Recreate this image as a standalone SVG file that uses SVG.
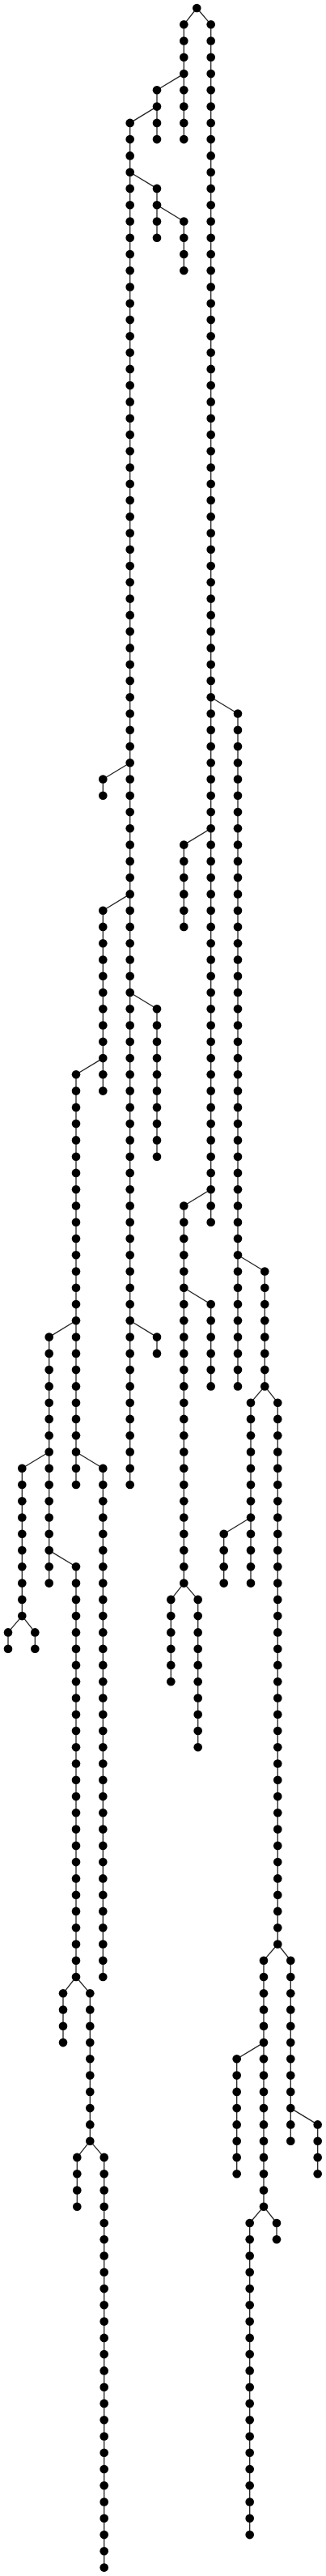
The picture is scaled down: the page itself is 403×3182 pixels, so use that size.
<svg xmlns="http://www.w3.org/2000/svg" width="403" height="3182" viewBox="0 0 403 3182">
<style>
circle{r:5.3px;fill:#000}
#edges line{stroke:#222;stroke-width:1.3}
</style>
<rect width="403" height="3182" fill="#fff"/>
<g id="edges">
<line x1="227.3" y1="30.3" x2="227.3" y2="172.1"/>
<line x1="260.7" y1="30.3" x2="260.7" y2="1509.7"/>
<line x1="194" y1="111.3" x2="194" y2="172.1"/>
<line x1="160.7" y1="151.9" x2="160.7" y2="1834"/>
<line x1="194" y1="232.9" x2="194" y2="293.7"/>
<line x1="227.3" y1="273.5" x2="227.3" y2="334.3"/>
<line x1="294" y1="881.5" x2="294" y2="1712.4"/>
<line x1="127.3" y1="962.5" x2="127.3" y2="982.8"/>
<line x1="227.3" y1="1043.6" x2="227.3" y2="1144.9"/>
<line x1="127.3" y1="1124.7" x2="127.3" y2="1347.6"/>
<line x1="194" y1="1246.3" x2="194" y2="1428.7"/>
<line x1="94" y1="1327.3" x2="94" y2="1834"/>
<line x1="227.3" y1="1489.5" x2="227.3" y2="1955.6"/>
<line x1="327.3" y1="1570.5" x2="327.3" y2="1712.4"/>
<line x1="60.7" y1="1651.6" x2="60.7" y2="1955.6"/>
<line x1="127.3" y1="1813.7" x2="127.3" y2="2442"/>
<line x1="194" y1="1651.6" x2="194" y2="1671.9"/>
<line x1="260.7" y1="1611.1" x2="260.7" y2="1712.4"/>
<line x1="27.3" y1="1813.7" x2="27.3" y2="1996.1"/>
<line x1="10" y1="2016.4" x2="10" y2="2036.7"/>
<line x1="43.3" y1="2016.4" x2="43.3" y2="2036.7"/>
<line x1="310" y1="1732.7" x2="310" y2="1955.6"/>
<line x1="343.3" y1="1732.7" x2="343.3" y2="2401.5"/>
<line x1="276.7" y1="1894.8" x2="276.7" y2="1955.6"/>
<line x1="94" y1="1935.3" x2="94" y2="2442"/>
<line x1="211.3" y1="1975.9" x2="211.3" y2="2077.2"/>
<line x1="244.7" y1="1975.9" x2="244.7" y2="2158.3"/>
<line x1="78" y1="2462.3" x2="78" y2="2523.1"/>
<line x1="111.3" y1="2462.3" x2="111.3" y2="2644.7"/>
<line x1="95.3" y1="2664.9" x2="95.3" y2="2725.7"/>
<line x1="128.7" y1="2664.9" x2="128.7" y2="3171.6"/>
<line x1="326" y1="2421.7" x2="326" y2="2725.7"/>
<line x1="359.3" y1="2421.7" x2="359.3" y2="2644.7"/>
<line x1="292.7" y1="2543.3" x2="292.7" y2="2685.2"/>
<line x1="392.7" y1="2624.4" x2="392.7" y2="2685.2"/>
<line x1="308.7" y1="2746" x2="308.7" y2="3131.1"/>
<line x1="342" y1="2746" x2="342" y2="2766.3"/>
<line x1="243.3" y1="10" x2="227.3" y2="30.3"/>
<line x1="243.3" y1="10" x2="260.7" y2="30.3"/>
<line x1="227.3" y1="91.1" x2="194" y2="111.3"/>
<line x1="194" y1="131.6" x2="160.7" y2="151.9"/>
<line x1="160.7" y1="212.7" x2="194" y2="232.9"/>
<line x1="194" y1="253.2" x2="227.3" y2="273.5"/>
<line x1="260.7" y1="861.2" x2="294" y2="881.5"/>
<line x1="160.7" y1="942.3" x2="127.3" y2="962.5"/>
<line x1="260.7" y1="1023.3" x2="227.3" y2="1043.6"/>
<line x1="160.7" y1="1104.4" x2="127.3" y2="1124.7"/>
<line x1="160.7" y1="1226" x2="194" y2="1246.3"/>
<line x1="127.3" y1="1307.1" x2="94" y2="1327.3"/>
<line x1="260.7" y1="1469.2" x2="227.3" y2="1489.5"/>
<line x1="294" y1="1550.3" x2="327.3" y2="1570.5"/>
<line x1="227.3" y1="1590.8" x2="260.7" y2="1611.1"/>
<line x1="94" y1="1631.3" x2="60.7" y2="1651.6"/>
<line x1="160.7" y1="1631.3" x2="194" y2="1651.6"/>
<line x1="327.3" y1="1712.4" x2="310" y2="1732.7"/>
<line x1="327.3" y1="1712.4" x2="343.3" y2="1732.7"/>
<line x1="94" y1="1793.5" x2="127.3" y2="1813.7"/>
<line x1="60.7" y1="1793.5" x2="27.3" y2="1813.7"/>
<line x1="310" y1="1874.5" x2="276.7" y2="1894.8"/>
<line x1="60.7" y1="1915.1" x2="94" y2="1935.3"/>
<line x1="227.3" y1="1955.6" x2="211.3" y2="1975.9"/>
<line x1="227.3" y1="1955.6" x2="244.7" y2="1975.9"/>
<line x1="27.3" y1="1996.1" x2="10" y2="2016.4"/>
<line x1="27.3" y1="1996.1" x2="43.3" y2="2016.4"/>
<line x1="343.3" y1="2401.5" x2="326" y2="2421.7"/>
<line x1="343.3" y1="2401.5" x2="359.3" y2="2421.7"/>
<line x1="94" y1="2442" x2="78" y2="2462.3"/>
<line x1="94" y1="2442" x2="111.3" y2="2462.3"/>
<line x1="326" y1="2523.1" x2="292.7" y2="2543.3"/>
<line x1="359.3" y1="2604.1" x2="392.7" y2="2624.4"/>
<line x1="111.3" y1="2644.7" x2="95.3" y2="2664.9"/>
<line x1="111.3" y1="2644.7" x2="128.7" y2="2664.9"/>
<line x1="326" y1="2725.7" x2="308.7" y2="2746"/>
<line x1="326" y1="2725.7" x2="342" y2="2746"/>
</g>
<g id="nodes">
<g id="a-0"><circle cx="243.3" cy="10"/></g>
<g id="b-1"><circle cx="227.3" cy="30.3"/></g>
<g id="b-2"><circle cx="227.3" cy="50.5"/></g>
<g id="b-3"><circle cx="227.3" cy="70.8"/></g>
<g id="b-4"><circle cx="227.3" cy="91.1"/></g>
<g id="b-5"><circle cx="227.3" cy="111.3"/></g>
<g id="b-6"><circle cx="227.3" cy="131.6"/></g>
<g id="b-7"><circle cx="227.3" cy="151.9"/></g>
<g id="b-8"><circle cx="227.3" cy="172.1"/></g>
<g id="c-1"><circle cx="260.7" cy="30.3"/></g>
<g id="c-2"><circle cx="260.7" cy="50.5"/></g>
<g id="c-3"><circle cx="260.7" cy="70.8"/></g>
<g id="c-4"><circle cx="260.7" cy="91.1"/></g>
<g id="c-5"><circle cx="260.7" cy="111.3"/></g>
<g id="c-6"><circle cx="260.7" cy="131.6"/></g>
<g id="c-7"><circle cx="260.7" cy="151.9"/></g>
<g id="c-8"><circle cx="260.7" cy="172.1"/></g>
<g id="c-9"><circle cx="260.7" cy="192.4"/></g>
<g id="c-10"><circle cx="260.7" cy="212.7"/></g>
<g id="c-11"><circle cx="260.7" cy="232.9"/></g>
<g id="c-12"><circle cx="260.7" cy="253.2"/></g>
<g id="c-13"><circle cx="260.7" cy="273.5"/></g>
<g id="c-14"><circle cx="260.7" cy="293.7"/></g>
<g id="c-15"><circle cx="260.7" cy="314"/></g>
<g id="c-16"><circle cx="260.7" cy="334.3"/></g>
<g id="c-17"><circle cx="260.7" cy="354.5"/></g>
<g id="c-18"><circle cx="260.7" cy="374.8"/></g>
<g id="c-19"><circle cx="260.7" cy="395.1"/></g>
<g id="c-20"><circle cx="260.7" cy="415.3"/></g>
<g id="c-21"><circle cx="260.7" cy="435.6"/></g>
<g id="c-22"><circle cx="260.7" cy="455.9"/></g>
<g id="c-23"><circle cx="260.7" cy="476.1"/></g>
<g id="c-24"><circle cx="260.7" cy="496.4"/></g>
<g id="c-25"><circle cx="260.7" cy="516.7"/></g>
<g id="c-26"><circle cx="260.7" cy="536.9"/></g>
<g id="c-27"><circle cx="260.7" cy="557.2"/></g>
<g id="c-28"><circle cx="260.7" cy="577.5"/></g>
<g id="c-29"><circle cx="260.7" cy="597.7"/></g>
<g id="c-30"><circle cx="260.7" cy="618"/></g>
<g id="c-31"><circle cx="260.7" cy="638.3"/></g>
<g id="c-32"><circle cx="260.7" cy="658.5"/></g>
<g id="c-33"><circle cx="260.7" cy="678.8"/></g>
<g id="c-34"><circle cx="260.7" cy="699.1"/></g>
<g id="c-35"><circle cx="260.7" cy="719.3"/></g>
<g id="c-36"><circle cx="260.7" cy="739.6"/></g>
<g id="c-37"><circle cx="260.7" cy="759.9"/></g>
<g id="c-38"><circle cx="260.7" cy="780.1"/></g>
<g id="c-39"><circle cx="260.7" cy="800.4"/></g>
<g id="c-40"><circle cx="260.7" cy="820.7"/></g>
<g id="c-41"><circle cx="260.7" cy="840.9"/></g>
<g id="c-42"><circle cx="260.7" cy="861.2"/></g>
<g id="c-43"><circle cx="260.7" cy="881.5"/></g>
<g id="c-44"><circle cx="260.7" cy="901.7"/></g>
<g id="c-45"><circle cx="260.7" cy="922"/></g>
<g id="c-46"><circle cx="260.7" cy="942.3"/></g>
<g id="c-47"><circle cx="260.7" cy="962.5"/></g>
<g id="c-48"><circle cx="260.7" cy="982.8"/></g>
<g id="c-49"><circle cx="260.7" cy="1003.1"/></g>
<g id="c-50"><circle cx="260.7" cy="1023.3"/></g>
<g id="c-51"><circle cx="260.7" cy="1043.6"/></g>
<g id="c-52"><circle cx="260.7" cy="1063.9"/></g>
<g id="c-53"><circle cx="260.7" cy="1084.1"/></g>
<g id="c-54"><circle cx="260.7" cy="1104.4"/></g>
<g id="c-55"><circle cx="260.7" cy="1124.7"/></g>
<g id="c-56"><circle cx="260.7" cy="1144.9"/></g>
<g id="c-57"><circle cx="260.7" cy="1165.2"/></g>
<g id="c-58"><circle cx="260.7" cy="1185.5"/></g>
<g id="c-59"><circle cx="260.7" cy="1205.7"/></g>
<g id="c-60"><circle cx="260.7" cy="1226"/></g>
<g id="c-61"><circle cx="260.7" cy="1246.3"/></g>
<g id="c-62"><circle cx="260.7" cy="1266.5"/></g>
<g id="c-63"><circle cx="260.7" cy="1286.8"/></g>
<g id="c-64"><circle cx="260.7" cy="1307.1"/></g>
<g id="c-65"><circle cx="260.7" cy="1327.3"/></g>
<g id="c-66"><circle cx="260.7" cy="1347.6"/></g>
<g id="c-67"><circle cx="260.7" cy="1367.9"/></g>
<g id="c-68"><circle cx="260.7" cy="1388.1"/></g>
<g id="c-69"><circle cx="260.7" cy="1408.4"/></g>
<g id="c-70"><circle cx="260.7" cy="1428.7"/></g>
<g id="c-71"><circle cx="260.7" cy="1448.9"/></g>
<g id="c-72"><circle cx="260.7" cy="1469.2"/></g>
<g id="c-73"><circle cx="260.7" cy="1489.5"/></g>
<g id="c-74"><circle cx="260.7" cy="1509.7"/></g>
<g id="d-5"><circle cx="194" cy="111.3"/></g>
<g id="d-6"><circle cx="194" cy="131.6"/></g>
<g id="d-7"><circle cx="194" cy="151.9"/></g>
<g id="d-8"><circle cx="194" cy="172.1"/></g>
<g id="e-7"><circle cx="160.7" cy="151.9"/></g>
<g id="e-8"><circle cx="160.7" cy="172.1"/></g>
<g id="e-9"><circle cx="160.7" cy="192.4"/></g>
<g id="e-10"><circle cx="160.7" cy="212.7"/></g>
<g id="e-11"><circle cx="160.7" cy="232.9"/></g>
<g id="e-12"><circle cx="160.7" cy="253.2"/></g>
<g id="e-13"><circle cx="160.7" cy="273.5"/></g>
<g id="e-14"><circle cx="160.7" cy="293.7"/></g>
<g id="e-15"><circle cx="160.7" cy="314"/></g>
<g id="e-16"><circle cx="160.7" cy="334.3"/></g>
<g id="e-17"><circle cx="160.7" cy="354.5"/></g>
<g id="e-18"><circle cx="160.7" cy="374.8"/></g>
<g id="e-19"><circle cx="160.7" cy="395.1"/></g>
<g id="e-20"><circle cx="160.7" cy="415.3"/></g>
<g id="e-21"><circle cx="160.7" cy="435.6"/></g>
<g id="e-22"><circle cx="160.7" cy="455.9"/></g>
<g id="e-23"><circle cx="160.7" cy="476.1"/></g>
<g id="e-24"><circle cx="160.7" cy="496.4"/></g>
<g id="e-25"><circle cx="160.7" cy="516.7"/></g>
<g id="e-26"><circle cx="160.7" cy="536.9"/></g>
<g id="e-27"><circle cx="160.7" cy="557.2"/></g>
<g id="e-28"><circle cx="160.7" cy="577.5"/></g>
<g id="e-29"><circle cx="160.7" cy="597.7"/></g>
<g id="e-30"><circle cx="160.7" cy="618"/></g>
<g id="e-31"><circle cx="160.7" cy="638.3"/></g>
<g id="e-32"><circle cx="160.7" cy="658.5"/></g>
<g id="e-33"><circle cx="160.7" cy="678.8"/></g>
<g id="e-34"><circle cx="160.7" cy="699.1"/></g>
<g id="e-35"><circle cx="160.7" cy="719.3"/></g>
<g id="e-36"><circle cx="160.7" cy="739.6"/></g>
<g id="e-37"><circle cx="160.7" cy="759.9"/></g>
<g id="e-38"><circle cx="160.7" cy="780.1"/></g>
<g id="e-39"><circle cx="160.7" cy="800.4"/></g>
<g id="e-40"><circle cx="160.7" cy="820.7"/></g>
<g id="e-41"><circle cx="160.7" cy="840.9"/></g>
<g id="e-42"><circle cx="160.7" cy="861.2"/></g>
<g id="e-43"><circle cx="160.7" cy="881.5"/></g>
<g id="e-44"><circle cx="160.7" cy="901.7"/></g>
<g id="e-45"><circle cx="160.7" cy="922"/></g>
<g id="e-46"><circle cx="160.7" cy="942.3"/></g>
<g id="e-47"><circle cx="160.7" cy="962.5"/></g>
<g id="e-48"><circle cx="160.7" cy="982.8"/></g>
<g id="e-49"><circle cx="160.7" cy="1003.1"/></g>
<g id="e-50"><circle cx="160.7" cy="1023.3"/></g>
<g id="e-51"><circle cx="160.7" cy="1043.6"/></g>
<g id="e-52"><circle cx="160.7" cy="1063.9"/></g>
<g id="e-53"><circle cx="160.7" cy="1084.1"/></g>
<g id="e-54"><circle cx="160.7" cy="1104.4"/></g>
<g id="e-55"><circle cx="160.7" cy="1124.7"/></g>
<g id="e-56"><circle cx="160.7" cy="1144.9"/></g>
<g id="e-57"><circle cx="160.7" cy="1165.2"/></g>
<g id="e-58"><circle cx="160.7" cy="1185.5"/></g>
<g id="e-59"><circle cx="160.7" cy="1205.7"/></g>
<g id="e-60"><circle cx="160.7" cy="1226"/></g>
<g id="e-61"><circle cx="160.7" cy="1246.3"/></g>
<g id="e-62"><circle cx="160.7" cy="1266.5"/></g>
<g id="e-63"><circle cx="160.7" cy="1286.8"/></g>
<g id="e-64"><circle cx="160.7" cy="1307.1"/></g>
<g id="e-65"><circle cx="160.7" cy="1327.3"/></g>
<g id="e-66"><circle cx="160.7" cy="1347.6"/></g>
<g id="e-67"><circle cx="160.7" cy="1367.9"/></g>
<g id="e-68"><circle cx="160.7" cy="1388.1"/></g>
<g id="e-69"><circle cx="160.7" cy="1408.4"/></g>
<g id="e-70"><circle cx="160.7" cy="1428.7"/></g>
<g id="e-71"><circle cx="160.7" cy="1448.9"/></g>
<g id="e-72"><circle cx="160.7" cy="1469.2"/></g>
<g id="e-73"><circle cx="160.7" cy="1489.5"/></g>
<g id="e-74"><circle cx="160.7" cy="1509.7"/></g>
<g id="e-75"><circle cx="160.7" cy="1530"/></g>
<g id="e-76"><circle cx="160.7" cy="1550.3"/></g>
<g id="e-77"><circle cx="160.7" cy="1570.5"/></g>
<g id="e-78"><circle cx="160.7" cy="1590.8"/></g>
<g id="e-79"><circle cx="160.7" cy="1611.1"/></g>
<g id="e-80"><circle cx="160.7" cy="1631.3"/></g>
<g id="e-81"><circle cx="160.7" cy="1651.6"/></g>
<g id="e-82"><circle cx="160.7" cy="1671.9"/></g>
<g id="e-83"><circle cx="160.7" cy="1692.1"/></g>
<g id="e-84"><circle cx="160.7" cy="1712.4"/></g>
<g id="e-85"><circle cx="160.7" cy="1732.7"/></g>
<g id="e-86"><circle cx="160.7" cy="1752.9"/></g>
<g id="e-87"><circle cx="160.7" cy="1773.2"/></g>
<g id="e-88"><circle cx="160.7" cy="1793.5"/></g>
<g id="e-89"><circle cx="160.7" cy="1813.7"/></g>
<g id="e-90"><circle cx="160.7" cy="1834"/></g>
<g id="f-11"><circle cx="194" cy="232.9"/></g>
<g id="f-12"><circle cx="194" cy="253.2"/></g>
<g id="f-13"><circle cx="194" cy="273.5"/></g>
<g id="f-14"><circle cx="194" cy="293.7"/></g>
<g id="g-13"><circle cx="227.3" cy="273.5"/></g>
<g id="g-14"><circle cx="227.3" cy="293.7"/></g>
<g id="g-15"><circle cx="227.3" cy="314"/></g>
<g id="g-16"><circle cx="227.3" cy="334.3"/></g>
<g id="h-43"><circle cx="294" cy="881.5"/></g>
<g id="h-44"><circle cx="294" cy="901.7"/></g>
<g id="h-45"><circle cx="294" cy="922"/></g>
<g id="h-46"><circle cx="294" cy="942.3"/></g>
<g id="h-47"><circle cx="294" cy="962.5"/></g>
<g id="h-48"><circle cx="294" cy="982.8"/></g>
<g id="h-49"><circle cx="294" cy="1003.1"/></g>
<g id="h-50"><circle cx="294" cy="1023.3"/></g>
<g id="h-51"><circle cx="294" cy="1043.6"/></g>
<g id="h-52"><circle cx="294" cy="1063.9"/></g>
<g id="h-53"><circle cx="294" cy="1084.1"/></g>
<g id="h-54"><circle cx="294" cy="1104.4"/></g>
<g id="h-55"><circle cx="294" cy="1124.7"/></g>
<g id="h-56"><circle cx="294" cy="1144.9"/></g>
<g id="h-57"><circle cx="294" cy="1165.2"/></g>
<g id="h-58"><circle cx="294" cy="1185.5"/></g>
<g id="h-59"><circle cx="294" cy="1205.7"/></g>
<g id="h-60"><circle cx="294" cy="1226"/></g>
<g id="h-61"><circle cx="294" cy="1246.3"/></g>
<g id="h-62"><circle cx="294" cy="1266.5"/></g>
<g id="h-63"><circle cx="294" cy="1286.8"/></g>
<g id="h-64"><circle cx="294" cy="1307.1"/></g>
<g id="h-65"><circle cx="294" cy="1327.3"/></g>
<g id="h-66"><circle cx="294" cy="1347.6"/></g>
<g id="h-67"><circle cx="294" cy="1367.9"/></g>
<g id="h-68"><circle cx="294" cy="1388.1"/></g>
<g id="h-69"><circle cx="294" cy="1408.4"/></g>
<g id="h-70"><circle cx="294" cy="1428.7"/></g>
<g id="h-71"><circle cx="294" cy="1448.9"/></g>
<g id="h-72"><circle cx="294" cy="1469.2"/></g>
<g id="h-73"><circle cx="294" cy="1489.5"/></g>
<g id="h-74"><circle cx="294" cy="1509.7"/></g>
<g id="h-75"><circle cx="294" cy="1530"/></g>
<g id="h-76"><circle cx="294" cy="1550.3"/></g>
<g id="h-77"><circle cx="294" cy="1570.5"/></g>
<g id="h-78"><circle cx="294" cy="1590.8"/></g>
<g id="h-79"><circle cx="294" cy="1611.1"/></g>
<g id="h-80"><circle cx="294" cy="1631.3"/></g>
<g id="h-81"><circle cx="294" cy="1651.6"/></g>
<g id="h-82"><circle cx="294" cy="1671.9"/></g>
<g id="h-83"><circle cx="294" cy="1692.1"/></g>
<g id="h-84"><circle cx="294" cy="1712.4"/></g>
<g id="i-47"><circle cx="127.3" cy="962.5"/></g>
<g id="i-48"><circle cx="127.3" cy="982.8"/></g>
<g id="j-51"><circle cx="227.3" cy="1043.6"/></g>
<g id="j-52"><circle cx="227.3" cy="1063.9"/></g>
<g id="j-53"><circle cx="227.3" cy="1084.1"/></g>
<g id="j-54"><circle cx="227.3" cy="1104.4"/></g>
<g id="j-55"><circle cx="227.3" cy="1124.7"/></g>
<g id="j-56"><circle cx="227.3" cy="1144.9"/></g>
<g id="k-55"><circle cx="127.3" cy="1124.7"/></g>
<g id="k-56"><circle cx="127.3" cy="1144.9"/></g>
<g id="k-57"><circle cx="127.3" cy="1165.2"/></g>
<g id="k-58"><circle cx="127.3" cy="1185.5"/></g>
<g id="k-59"><circle cx="127.3" cy="1205.7"/></g>
<g id="k-60"><circle cx="127.3" cy="1226"/></g>
<g id="k-61"><circle cx="127.3" cy="1246.3"/></g>
<g id="k-62"><circle cx="127.3" cy="1266.5"/></g>
<g id="k-63"><circle cx="127.3" cy="1286.8"/></g>
<g id="k-64"><circle cx="127.3" cy="1307.1"/></g>
<g id="k-65"><circle cx="127.3" cy="1327.3"/></g>
<g id="k-66"><circle cx="127.3" cy="1347.6"/></g>
<g id="l-61"><circle cx="194" cy="1246.3"/></g>
<g id="l-62"><circle cx="194" cy="1266.5"/></g>
<g id="l-63"><circle cx="194" cy="1286.8"/></g>
<g id="l-64"><circle cx="194" cy="1307.1"/></g>
<g id="l-65"><circle cx="194" cy="1327.3"/></g>
<g id="l-66"><circle cx="194" cy="1347.6"/></g>
<g id="l-67"><circle cx="194" cy="1367.9"/></g>
<g id="l-68"><circle cx="194" cy="1388.1"/></g>
<g id="l-69"><circle cx="194" cy="1408.4"/></g>
<g id="l-70"><circle cx="194" cy="1428.7"/></g>
<g id="m-65"><circle cx="94" cy="1327.3"/></g>
<g id="m-66"><circle cx="94" cy="1347.6"/></g>
<g id="m-67"><circle cx="94" cy="1367.9"/></g>
<g id="m-68"><circle cx="94" cy="1388.1"/></g>
<g id="m-69"><circle cx="94" cy="1408.4"/></g>
<g id="m-70"><circle cx="94" cy="1428.7"/></g>
<g id="m-71"><circle cx="94" cy="1448.9"/></g>
<g id="m-72"><circle cx="94" cy="1469.2"/></g>
<g id="m-73"><circle cx="94" cy="1489.5"/></g>
<g id="m-74"><circle cx="94" cy="1509.7"/></g>
<g id="m-75"><circle cx="94" cy="1530"/></g>
<g id="m-76"><circle cx="94" cy="1550.3"/></g>
<g id="m-77"><circle cx="94" cy="1570.5"/></g>
<g id="m-78"><circle cx="94" cy="1590.8"/></g>
<g id="m-79"><circle cx="94" cy="1611.1"/></g>
<g id="m-80"><circle cx="94" cy="1631.3"/></g>
<g id="m-81"><circle cx="94" cy="1651.6"/></g>
<g id="m-82"><circle cx="94" cy="1671.9"/></g>
<g id="m-83"><circle cx="94" cy="1692.1"/></g>
<g id="m-84"><circle cx="94" cy="1712.4"/></g>
<g id="m-85"><circle cx="94" cy="1732.7"/></g>
<g id="m-86"><circle cx="94" cy="1752.9"/></g>
<g id="m-87"><circle cx="94" cy="1773.2"/></g>
<g id="m-88"><circle cx="94" cy="1793.5"/></g>
<g id="m-89"><circle cx="94" cy="1813.7"/></g>
<g id="m-90"><circle cx="94" cy="1834"/></g>
<g id="n-73"><circle cx="227.3" cy="1489.5"/></g>
<g id="n-74"><circle cx="227.3" cy="1509.7"/></g>
<g id="n-75"><circle cx="227.3" cy="1530"/></g>
<g id="n-76"><circle cx="227.3" cy="1550.3"/></g>
<g id="n-77"><circle cx="227.3" cy="1570.5"/></g>
<g id="n-78"><circle cx="227.3" cy="1590.8"/></g>
<g id="n-79"><circle cx="227.3" cy="1611.1"/></g>
<g id="n-80"><circle cx="227.3" cy="1631.3"/></g>
<g id="n-81"><circle cx="227.3" cy="1651.6"/></g>
<g id="n-82"><circle cx="227.3" cy="1671.9"/></g>
<g id="n-83"><circle cx="227.3" cy="1692.1"/></g>
<g id="n-84"><circle cx="227.3" cy="1712.4"/></g>
<g id="n-85"><circle cx="227.3" cy="1732.7"/></g>
<g id="n-86"><circle cx="227.3" cy="1752.9"/></g>
<g id="n-87"><circle cx="227.3" cy="1773.2"/></g>
<g id="n-88"><circle cx="227.3" cy="1793.5"/></g>
<g id="n-89"><circle cx="227.3" cy="1813.7"/></g>
<g id="n-90"><circle cx="227.3" cy="1834"/></g>
<g id="n-91"><circle cx="227.3" cy="1854.3"/></g>
<g id="n-92"><circle cx="227.3" cy="1874.5"/></g>
<g id="n-93"><circle cx="227.3" cy="1894.8"/></g>
<g id="n-94"><circle cx="227.3" cy="1915.1"/></g>
<g id="n-95"><circle cx="227.3" cy="1935.3"/></g>
<g id="n-96"><circle cx="227.3" cy="1955.6"/></g>
<g id="o-77"><circle cx="327.3" cy="1570.5"/></g>
<g id="o-78"><circle cx="327.3" cy="1590.8"/></g>
<g id="o-79"><circle cx="327.3" cy="1611.1"/></g>
<g id="o-80"><circle cx="327.3" cy="1631.3"/></g>
<g id="o-81"><circle cx="327.3" cy="1651.6"/></g>
<g id="o-82"><circle cx="327.3" cy="1671.9"/></g>
<g id="o-83"><circle cx="327.3" cy="1692.1"/></g>
<g id="o-84"><circle cx="327.3" cy="1712.4"/></g>
<g id="p-81"><circle cx="60.7" cy="1651.6"/></g>
<g id="p-82"><circle cx="60.7" cy="1671.9"/></g>
<g id="p-83"><circle cx="60.7" cy="1692.1"/></g>
<g id="p-84"><circle cx="60.7" cy="1712.4"/></g>
<g id="p-85"><circle cx="60.7" cy="1732.7"/></g>
<g id="p-86"><circle cx="60.7" cy="1752.9"/></g>
<g id="p-87"><circle cx="60.7" cy="1773.2"/></g>
<g id="p-88"><circle cx="60.7" cy="1793.5"/></g>
<g id="p-89"><circle cx="60.7" cy="1813.7"/></g>
<g id="p-90"><circle cx="60.7" cy="1834"/></g>
<g id="p-91"><circle cx="60.7" cy="1854.3"/></g>
<g id="p-92"><circle cx="60.7" cy="1874.5"/></g>
<g id="p-93"><circle cx="60.7" cy="1894.8"/></g>
<g id="p-94"><circle cx="60.7" cy="1915.1"/></g>
<g id="p-95"><circle cx="60.7" cy="1935.3"/></g>
<g id="p-96"><circle cx="60.7" cy="1955.6"/></g>
<g id="q-89"><circle cx="127.3" cy="1813.7"/></g>
<g id="q-90"><circle cx="127.3" cy="1834"/></g>
<g id="q-91"><circle cx="127.3" cy="1854.3"/></g>
<g id="q-92"><circle cx="127.3" cy="1874.5"/></g>
<g id="q-93"><circle cx="127.3" cy="1894.8"/></g>
<g id="q-94"><circle cx="127.3" cy="1915.1"/></g>
<g id="q-95"><circle cx="127.3" cy="1935.3"/></g>
<g id="q-96"><circle cx="127.3" cy="1955.6"/></g>
<g id="q-97"><circle cx="127.3" cy="1975.9"/></g>
<g id="q-98"><circle cx="127.3" cy="1996.1"/></g>
<g id="q-99"><circle cx="127.3" cy="2016.4"/></g>
<g id="q-100"><circle cx="127.3" cy="2036.7"/></g>
<g id="q-101"><circle cx="127.3" cy="2056.9"/></g>
<g id="q-102"><circle cx="127.3" cy="2077.2"/></g>
<g id="q-103"><circle cx="127.3" cy="2097.5"/></g>
<g id="q-104"><circle cx="127.3" cy="2117.7"/></g>
<g id="q-105"><circle cx="127.3" cy="2138"/></g>
<g id="q-106"><circle cx="127.3" cy="2158.3"/></g>
<g id="q-107"><circle cx="127.3" cy="2178.5"/></g>
<g id="q-108"><circle cx="127.3" cy="2198.8"/></g>
<g id="q-109"><circle cx="127.3" cy="2219.1"/></g>
<g id="q-110"><circle cx="127.3" cy="2239.3"/></g>
<g id="q-111"><circle cx="127.3" cy="2259.6"/></g>
<g id="q-112"><circle cx="127.3" cy="2279.9"/></g>
<g id="q-113"><circle cx="127.3" cy="2300.1"/></g>
<g id="q-114"><circle cx="127.3" cy="2320.4"/></g>
<g id="q-115"><circle cx="127.3" cy="2340.7"/></g>
<g id="q-116"><circle cx="127.3" cy="2360.9"/></g>
<g id="q-117"><circle cx="127.3" cy="2381.2"/></g>
<g id="q-118"><circle cx="127.3" cy="2401.5"/></g>
<g id="q-119"><circle cx="127.3" cy="2421.7"/></g>
<g id="q-120"><circle cx="127.3" cy="2442"/></g>
<g id="r-81"><circle cx="194" cy="1651.6"/></g>
<g id="r-82"><circle cx="194" cy="1671.9"/></g>
<g id="s-79"><circle cx="260.7" cy="1611.1"/></g>
<g id="s-80"><circle cx="260.7" cy="1631.3"/></g>
<g id="s-81"><circle cx="260.7" cy="1651.6"/></g>
<g id="s-82"><circle cx="260.7" cy="1671.9"/></g>
<g id="s-83"><circle cx="260.7" cy="1692.1"/></g>
<g id="s-84"><circle cx="260.7" cy="1712.4"/></g>
<g id="t-89"><circle cx="27.3" cy="1813.7"/></g>
<g id="t-90"><circle cx="27.3" cy="1834"/></g>
<g id="t-91"><circle cx="27.3" cy="1854.3"/></g>
<g id="t-92"><circle cx="27.3" cy="1874.5"/></g>
<g id="t-93"><circle cx="27.3" cy="1894.8"/></g>
<g id="t-94"><circle cx="27.3" cy="1915.1"/></g>
<g id="t-95"><circle cx="27.3" cy="1935.3"/></g>
<g id="t-96"><circle cx="27.3" cy="1955.6"/></g>
<g id="t-97"><circle cx="27.3" cy="1975.9"/></g>
<g id="t-98"><circle cx="27.3" cy="1996.1"/></g>
<g id="u-99"><circle cx="10" cy="2016.4"/></g>
<g id="u-100"><circle cx="10" cy="2036.7"/></g>
<g id="v-99"><circle cx="43.3" cy="2016.4"/></g>
<g id="v-100"><circle cx="43.3" cy="2036.7"/></g>
<g id="w-85"><circle cx="310" cy="1732.7"/></g>
<g id="w-86"><circle cx="310" cy="1752.9"/></g>
<g id="w-87"><circle cx="310" cy="1773.2"/></g>
<g id="w-88"><circle cx="310" cy="1793.5"/></g>
<g id="w-89"><circle cx="310" cy="1813.7"/></g>
<g id="w-90"><circle cx="310" cy="1834"/></g>
<g id="w-91"><circle cx="310" cy="1854.3"/></g>
<g id="w-92"><circle cx="310" cy="1874.5"/></g>
<g id="w-93"><circle cx="310" cy="1894.8"/></g>
<g id="w-94"><circle cx="310" cy="1915.1"/></g>
<g id="w-95"><circle cx="310" cy="1935.3"/></g>
<g id="w-96"><circle cx="310" cy="1955.6"/></g>
<g id="x-85"><circle cx="343.3" cy="1732.7"/></g>
<g id="x-86"><circle cx="343.3" cy="1752.9"/></g>
<g id="x-87"><circle cx="343.3" cy="1773.2"/></g>
<g id="x-88"><circle cx="343.3" cy="1793.5"/></g>
<g id="x-89"><circle cx="343.3" cy="1813.7"/></g>
<g id="x-90"><circle cx="343.3" cy="1834"/></g>
<g id="x-91"><circle cx="343.3" cy="1854.3"/></g>
<g id="x-92"><circle cx="343.3" cy="1874.5"/></g>
<g id="x-93"><circle cx="343.3" cy="1894.8"/></g>
<g id="x-94"><circle cx="343.3" cy="1915.1"/></g>
<g id="x-95"><circle cx="343.3" cy="1935.3"/></g>
<g id="x-96"><circle cx="343.3" cy="1955.6"/></g>
<g id="x-97"><circle cx="343.3" cy="1975.9"/></g>
<g id="x-98"><circle cx="343.3" cy="1996.1"/></g>
<g id="x-99"><circle cx="343.3" cy="2016.4"/></g>
<g id="x-100"><circle cx="343.3" cy="2036.7"/></g>
<g id="x-101"><circle cx="343.3" cy="2056.9"/></g>
<g id="x-102"><circle cx="343.3" cy="2077.2"/></g>
<g id="x-103"><circle cx="343.3" cy="2097.5"/></g>
<g id="x-104"><circle cx="343.3" cy="2117.7"/></g>
<g id="x-105"><circle cx="343.3" cy="2138"/></g>
<g id="x-106"><circle cx="343.3" cy="2158.3"/></g>
<g id="x-107"><circle cx="343.3" cy="2178.5"/></g>
<g id="x-108"><circle cx="343.3" cy="2198.8"/></g>
<g id="x-109"><circle cx="343.3" cy="2219.1"/></g>
<g id="x-110"><circle cx="343.3" cy="2239.3"/></g>
<g id="x-111"><circle cx="343.3" cy="2259.6"/></g>
<g id="x-112"><circle cx="343.3" cy="2279.9"/></g>
<g id="x-113"><circle cx="343.3" cy="2300.1"/></g>
<g id="x-114"><circle cx="343.3" cy="2320.4"/></g>
<g id="x-115"><circle cx="343.3" cy="2340.7"/></g>
<g id="x-116"><circle cx="343.3" cy="2360.9"/></g>
<g id="x-117"><circle cx="343.3" cy="2381.2"/></g>
<g id="x-118"><circle cx="343.3" cy="2401.5"/></g>
<g id="y-93"><circle cx="276.7" cy="1894.8"/></g>
<g id="y-94"><circle cx="276.7" cy="1915.1"/></g>
<g id="y-95"><circle cx="276.7" cy="1935.3"/></g>
<g id="y-96"><circle cx="276.7" cy="1955.6"/></g>
<g id="z-95"><circle cx="94" cy="1935.3"/></g>
<g id="z-96"><circle cx="94" cy="1955.6"/></g>
<g id="z-97"><circle cx="94" cy="1975.9"/></g>
<g id="z-98"><circle cx="94" cy="1996.1"/></g>
<g id="z-99"><circle cx="94" cy="2016.4"/></g>
<g id="z-100"><circle cx="94" cy="2036.7"/></g>
<g id="z-101"><circle cx="94" cy="2056.9"/></g>
<g id="z-102"><circle cx="94" cy="2077.2"/></g>
<g id="z-103"><circle cx="94" cy="2097.5"/></g>
<g id="z-104"><circle cx="94" cy="2117.7"/></g>
<g id="z-105"><circle cx="94" cy="2138"/></g>
<g id="z-106"><circle cx="94" cy="2158.3"/></g>
<g id="z-107"><circle cx="94" cy="2178.5"/></g>
<g id="z-108"><circle cx="94" cy="2198.8"/></g>
<g id="z-109"><circle cx="94" cy="2219.1"/></g>
<g id="z-110"><circle cx="94" cy="2239.3"/></g>
<g id="z-111"><circle cx="94" cy="2259.6"/></g>
<g id="z-112"><circle cx="94" cy="2279.9"/></g>
<g id="z-113"><circle cx="94" cy="2300.1"/></g>
<g id="z-114"><circle cx="94" cy="2320.4"/></g>
<g id="z-115"><circle cx="94" cy="2340.7"/></g>
<g id="z-116"><circle cx="94" cy="2360.9"/></g>
<g id="z-117"><circle cx="94" cy="2381.2"/></g>
<g id="z-118"><circle cx="94" cy="2401.5"/></g>
<g id="z-119"><circle cx="94" cy="2421.7"/></g>
<g id="z-120"><circle cx="94" cy="2442"/></g>
<g id="za-97"><circle cx="211.3" cy="1975.9"/></g>
<g id="za-98"><circle cx="211.3" cy="1996.1"/></g>
<g id="za-99"><circle cx="211.3" cy="2016.4"/></g>
<g id="za-100"><circle cx="211.3" cy="2036.7"/></g>
<g id="za-101"><circle cx="211.3" cy="2056.9"/></g>
<g id="za-102"><circle cx="211.3" cy="2077.2"/></g>
<g id="zb-97"><circle cx="244.7" cy="1975.9"/></g>
<g id="zb-98"><circle cx="244.7" cy="1996.1"/></g>
<g id="zb-99"><circle cx="244.7" cy="2016.4"/></g>
<g id="zb-100"><circle cx="244.7" cy="2036.7"/></g>
<g id="zb-101"><circle cx="244.7" cy="2056.9"/></g>
<g id="zb-102"><circle cx="244.7" cy="2077.2"/></g>
<g id="zb-103"><circle cx="244.7" cy="2097.5"/></g>
<g id="zb-104"><circle cx="244.7" cy="2117.7"/></g>
<g id="zb-105"><circle cx="244.7" cy="2138"/></g>
<g id="zb-106"><circle cx="244.7" cy="2158.3"/></g>
<g id="zc-121"><circle cx="78" cy="2462.3"/></g>
<g id="zc-122"><circle cx="78" cy="2482.5"/></g>
<g id="zc-123"><circle cx="78" cy="2502.8"/></g>
<g id="zc-124"><circle cx="78" cy="2523.1"/></g>
<g id="zd-121"><circle cx="111.3" cy="2462.3"/></g>
<g id="zd-122"><circle cx="111.3" cy="2482.5"/></g>
<g id="zd-123"><circle cx="111.3" cy="2502.8"/></g>
<g id="zd-124"><circle cx="111.3" cy="2523.1"/></g>
<g id="zd-125"><circle cx="111.3" cy="2543.3"/></g>
<g id="zd-126"><circle cx="111.3" cy="2563.6"/></g>
<g id="zd-127"><circle cx="111.3" cy="2583.9"/></g>
<g id="zd-128"><circle cx="111.3" cy="2604.1"/></g>
<g id="zd-129"><circle cx="111.3" cy="2624.4"/></g>
<g id="zd-130"><circle cx="111.3" cy="2644.7"/></g>
<g id="ze-131"><circle cx="95.3" cy="2664.9"/></g>
<g id="ze-132"><circle cx="95.3" cy="2685.2"/></g>
<g id="ze-133"><circle cx="95.3" cy="2705.5"/></g>
<g id="ze-134"><circle cx="95.3" cy="2725.7"/></g>
<g id="zf-131"><circle cx="128.7" cy="2664.9"/></g>
<g id="zf-132"><circle cx="128.7" cy="2685.2"/></g>
<g id="zf-133"><circle cx="128.7" cy="2705.5"/></g>
<g id="zf-134"><circle cx="128.7" cy="2725.7"/></g>
<g id="zf-135"><circle cx="128.7" cy="2746"/></g>
<g id="zf-136"><circle cx="128.7" cy="2766.3"/></g>
<g id="zf-137"><circle cx="128.7" cy="2786.5"/></g>
<g id="zf-138"><circle cx="128.7" cy="2806.8"/></g>
<g id="zf-139"><circle cx="128.7" cy="2827.1"/></g>
<g id="zf-140"><circle cx="128.7" cy="2847.3"/></g>
<g id="zf-141"><circle cx="128.7" cy="2867.6"/></g>
<g id="zf-142"><circle cx="128.7" cy="2887.9"/></g>
<g id="zf-143"><circle cx="128.7" cy="2908.1"/></g>
<g id="zf-144"><circle cx="128.7" cy="2928.4"/></g>
<g id="zf-145"><circle cx="128.7" cy="2948.7"/></g>
<g id="zf-146"><circle cx="128.7" cy="2968.9"/></g>
<g id="zf-147"><circle cx="128.7" cy="2989.2"/></g>
<g id="zf-148"><circle cx="128.7" cy="3009.5"/></g>
<g id="zf-149"><circle cx="128.7" cy="3029.7"/></g>
<g id="zf-150"><circle cx="128.7" cy="3050"/></g>
<g id="zf-151"><circle cx="128.7" cy="3070.3"/></g>
<g id="zf-152"><circle cx="128.7" cy="3090.5"/></g>
<g id="zf-153"><circle cx="128.7" cy="3110.8"/></g>
<g id="zf-154"><circle cx="128.7" cy="3131.1"/></g>
<g id="zf-155"><circle cx="128.7" cy="3151.3"/></g>
<g id="zf-156"><circle cx="128.7" cy="3171.6"/></g>
<g id="zg-119"><circle cx="326" cy="2421.7"/></g>
<g id="zg-120"><circle cx="326" cy="2442"/></g>
<g id="zg-121"><circle cx="326" cy="2462.3"/></g>
<g id="zg-122"><circle cx="326" cy="2482.5"/></g>
<g id="zg-123"><circle cx="326" cy="2502.8"/></g>
<g id="zg-124"><circle cx="326" cy="2523.1"/></g>
<g id="zg-125"><circle cx="326" cy="2543.3"/></g>
<g id="zg-126"><circle cx="326" cy="2563.6"/></g>
<g id="zg-127"><circle cx="326" cy="2583.9"/></g>
<g id="zg-128"><circle cx="326" cy="2604.1"/></g>
<g id="zg-129"><circle cx="326" cy="2624.4"/></g>
<g id="zg-130"><circle cx="326" cy="2644.7"/></g>
<g id="zg-131"><circle cx="326" cy="2664.9"/></g>
<g id="zg-132"><circle cx="326" cy="2685.2"/></g>
<g id="zg-133"><circle cx="326" cy="2705.5"/></g>
<g id="zg-134"><circle cx="326" cy="2725.7"/></g>
<g id="zh-119"><circle cx="359.3" cy="2421.7"/></g>
<g id="zh-120"><circle cx="359.3" cy="2442"/></g>
<g id="zh-121"><circle cx="359.3" cy="2462.3"/></g>
<g id="zh-122"><circle cx="359.3" cy="2482.5"/></g>
<g id="zh-123"><circle cx="359.3" cy="2502.8"/></g>
<g id="zh-124"><circle cx="359.3" cy="2523.1"/></g>
<g id="zh-125"><circle cx="359.3" cy="2543.3"/></g>
<g id="zh-126"><circle cx="359.3" cy="2563.6"/></g>
<g id="zh-127"><circle cx="359.3" cy="2583.9"/></g>
<g id="zh-128"><circle cx="359.3" cy="2604.1"/></g>
<g id="zh-129"><circle cx="359.3" cy="2624.4"/></g>
<g id="zh-130"><circle cx="359.3" cy="2644.7"/></g>
<g id="zi-125"><circle cx="292.7" cy="2543.3"/></g>
<g id="zi-126"><circle cx="292.7" cy="2563.6"/></g>
<g id="zi-127"><circle cx="292.7" cy="2583.9"/></g>
<g id="zi-128"><circle cx="292.7" cy="2604.1"/></g>
<g id="zi-129"><circle cx="292.7" cy="2624.4"/></g>
<g id="zi-130"><circle cx="292.7" cy="2644.7"/></g>
<g id="zi-131"><circle cx="292.7" cy="2664.9"/></g>
<g id="zi-132"><circle cx="292.7" cy="2685.2"/></g>
<g id="zj-129"><circle cx="392.7" cy="2624.4"/></g>
<g id="zj-130"><circle cx="392.7" cy="2644.7"/></g>
<g id="zj-131"><circle cx="392.7" cy="2664.9"/></g>
<g id="zj-132"><circle cx="392.7" cy="2685.2"/></g>
<g id="zk-135"><circle cx="308.7" cy="2746"/></g>
<g id="zk-136"><circle cx="308.7" cy="2766.3"/></g>
<g id="zk-137"><circle cx="308.7" cy="2786.5"/></g>
<g id="zk-138"><circle cx="308.7" cy="2806.8"/></g>
<g id="zk-139"><circle cx="308.7" cy="2827.1"/></g>
<g id="zk-140"><circle cx="308.7" cy="2847.3"/></g>
<g id="zk-141"><circle cx="308.7" cy="2867.6"/></g>
<g id="zk-142"><circle cx="308.7" cy="2887.9"/></g>
<g id="zk-143"><circle cx="308.7" cy="2908.1"/></g>
<g id="zk-144"><circle cx="308.7" cy="2928.4"/></g>
<g id="zk-145"><circle cx="308.7" cy="2948.7"/></g>
<g id="zk-146"><circle cx="308.7" cy="2968.9"/></g>
<g id="zk-147"><circle cx="308.7" cy="2989.2"/></g>
<g id="zk-148"><circle cx="308.7" cy="3009.5"/></g>
<g id="zk-149"><circle cx="308.7" cy="3029.7"/></g>
<g id="zk-150"><circle cx="308.7" cy="3050"/></g>
<g id="zk-151"><circle cx="308.7" cy="3070.3"/></g>
<g id="zk-152"><circle cx="308.7" cy="3090.5"/></g>
<g id="zk-153"><circle cx="308.7" cy="3110.8"/></g>
<g id="zk-154"><circle cx="308.7" cy="3131.1"/></g>
<g id="zl-135"><circle cx="342" cy="2746"/></g>
<g id="zl-136"><circle cx="342" cy="2766.3"/></g>
</g>
</svg>
